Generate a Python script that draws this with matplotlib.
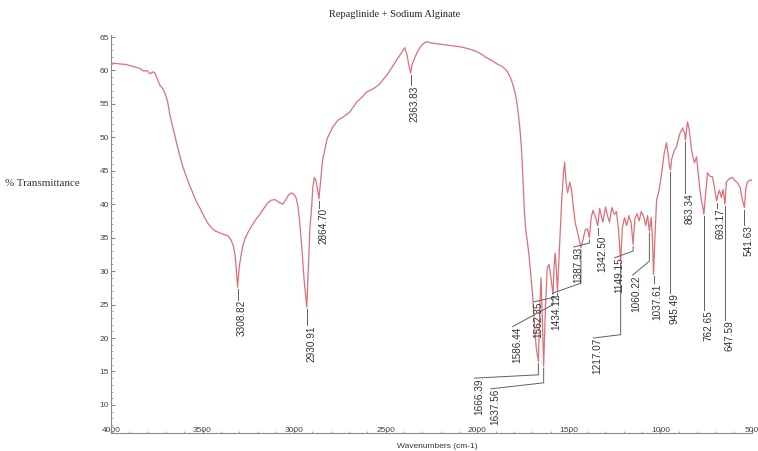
import numpy as np
import matplotlib.pyplot as plt
from matplotlib.ticker import MultipleLocator

# FTIR spectrum: wavenumber (cm-1) and % transmittance
wavenumber = [4000, 3960, 3920, 3880, 3842, 3820, 3805, 3787, 3770, 3760, 3745, 3733, 3718, 3705,
              3690, 3678, 3665, 3651, 3637, 3624, 3610, 3596, 3583, 3569, 3555, 3542, 3528, 3514,
              3500, 3487, 3470, 3449, 3430, 3405, 3385, 3362, 3345, 3332, 3322, 3315, 3308.82, 3300,
              3291, 3280, 3269, 3250, 3231, 3210, 3187, 3165, 3144, 3125, 3105, 3085, 3062, 3045,
              3030, 3015, 3002, 2990, 2980, 2970, 2958, 2945, 2930.91, 2922, 2914, 2906, 2898, 2890,
              2882, 2874, 2864.70, 2845, 2820, 2790, 2760, 2734, 2696, 2658, 2630, 2603, 2571, 2540,
              2515, 2494, 2465, 2440, 2415, 2396, 2385, 2375, 2363.83, 2357, 2346, 2330, 2314, 2295,
              2276, 2250, 2221, 2195, 2167, 2140, 2112, 2085, 2058, 2030, 2003, 1975, 1949, 1920,
              1894, 1865, 1840, 1820, 1807, 1792, 1780, 1768, 1758, 1750, 1743, 1735, 1727, 1718,
              1708, 1698, 1688, 1678, 1666.39, 1658, 1652, 1646, 1637.56, 1628, 1618, 1608, 1598,
              1586.44, 1580, 1575, 1569, 1562.35, 1552, 1540, 1530, 1523, 1516, 1507, 1495, 1485,
              1475, 1465, 1450, 1434.12, 1422, 1410, 1398, 1387.93, 1378, 1368, 1358, 1342.50, 1332,
              1322, 1314, 1300, 1288, 1278, 1265, 1252, 1240, 1230, 1217.07, 1208, 1196, 1184, 1172,
              1160, 1149.15, 1140, 1128, 1116, 1105, 1093, 1080, 1070, 1060.22, 1050, 1044, 1037.61,
              1030, 1021, 1008, 994, 980, 967, 958, 952, 945.49, 938, 925, 912, 895, 879, 868,
              863.34, 858, 852, 845, 838, 830, 822, 814, 803, 795, 786, 776, 768, 762.65, 755, 743,
              730, 716, 705, 693.17, 685, 678, 667, 658, 647.59, 640, 625, 607, 593, 579, 565, 552,
              541.63, 533, 525, 512, 500]
transmittance = [61.1, 61.0, 60.9, 60.6, 60.3, 59.9, 60.0, 59.5, 59.8, 59.6, 58.6, 57.8, 57.3, 56.6,
                 55.2, 53.3, 51.8, 50.2, 48.6, 47.2, 45.8, 44.7, 43.7, 42.7, 41.8, 40.9, 40.1, 39.4,
                 38.6, 37.9, 37.1, 36.4, 36.0, 35.7, 35.5, 35.3, 34.7, 33.8, 32.3, 30.0, 27.6, 30.5,
                 32.2, 33.8, 34.8, 35.9, 36.8, 37.7, 38.5, 39.4, 40.2, 40.6, 40.7, 40.3, 40.0, 40.7,
                 41.4, 41.7, 41.5, 41.0, 39.8, 37.5, 33.5, 28.5, 24.6, 31.0, 36.5, 38.9, 42.5, 44.0,
                 43.6, 42.5, 40.8, 46.5, 49.8, 51.5, 52.6, 53.0, 53.8, 55.3, 56.0, 56.8, 57.2, 57.8,
                 58.6, 59.3, 60.5, 61.6, 62.6, 63.4, 62.5, 61.0, 59.6, 60.8, 61.6, 62.6, 63.4, 64.0,
                 64.3, 64.1, 64.0, 63.9, 63.8, 63.7, 63.6, 63.5, 63.3, 63.1, 62.8, 62.4, 61.9, 61.5,
                 61.0, 60.6, 60.0, 59.0, 58.0, 56.5, 54.5, 51.5, 48.1, 43.5, 39.0, 36.0, 34.5, 32.5,
                 29.5, 26.5, 22.0, 18.5, 16.5, 25.0, 29.0, 24.0, 15.8, 24.5, 30.5, 31.0, 29.0,
                 26.5, 31.0, 32.7, 30.5, 27.0, 33.0, 40.0, 44.5, 46.3, 43.5, 41.7, 43.3, 42.0,
                 39.5, 37.2, 35.5, 33.5, 34.8, 36.2, 36.3, 35.0, 38.0, 39.1, 38.4, 36.8, 39.4,
                 38.2, 37.3, 39.6, 38.2, 37.3, 39.5, 38.5, 38.9, 36.5, 31.5, 36.5, 38.0, 36.8, 38.3,
                 37.2, 34.0, 37.8, 38.6, 37.5, 38.9, 38.3, 36.8, 38.3, 36.0, 38.0, 35.0, 29.5,
                 35.0, 40.6, 42.0, 44.5, 47.5, 49.2, 47.5, 46.0, 45.1, 46.8, 48.0, 48.6, 50.5, 51.4, 50.6,
                 49.6, 51.0, 52.3, 51.5, 50.0, 48.1, 47.0, 46.2, 47.1, 45.0, 42.5, 40.6, 39.5, 38.5, 41.0, 44.7,
                 44.2, 44.1, 42.5, 40.5, 41.5, 42.1, 41.0, 42.2, 40.0, 43.3, 43.8, 44.0, 43.5, 43.2, 42.5, 40.6,
                 39.5, 42.5, 43.3, 43.6, 43.6]

peaks = [3308.82, 2930.91, 2864.70, 2363.83, 1666.39, 1637.56, 1586.44, 1562.35, 1434.12,
         1387.93, 1342.50, 1217.07, 1149.15, 1060.22, 1037.61, 945.49, 863.34, 762.65,
         693.17, 647.59, 541.63]

# where each peak label goes: (text position in cm-1, top of text in %T, leader bend in %T)
label_layout = [(3308.82, 25.7, None), (2930.91, 21.9, None), (2864.70, 39.5, None),
                (2363.83, 57.8, None), (2014, 14.0, 14.5), (1927, 12.4, 13.3),
                (1807, 21.7, 25.0), (1692, 25.4, 26.2), (1589, 26.7, 28.2),
                (1474, 33.6, 34.2), (1342.50, 35.4, None), (1365, 20.0, 20.5),
                (1250, 32.0, 33.0), (1152, 29.4, 31.5), (1037.61, 28.2, None),
                (945.49, 26.7, None), (863.34, 41.7, None), (762.65, 24.2, None),
                (693.17, 39.4, None), (647.59, 22.7, None), (541.63, 36.9, None)]

wn = np.array(wavenumber)
tr = np.array(transmittance)

fig = plt.figure(figsize=(7.58, 4.51), dpi=100)
ax = fig.add_axes([111 / 758, 18 / 451, 641 / 758, 398 / 451])

ax.plot(wn, tr, color='#dd6f78', lw=0.9)

peak_t = np.interp(peaks, wn[::-1], tr[::-1])
for p, pt, (tx, top, bend) in zip(peaks, peak_t, label_layout):
    if bend is None:
        xs, ys = [p, p], [pt - 0.3, top]
    else:
        xs, ys = [p, p, tx], [pt - 0.3, bend, top]
    ax.plot(xs, ys, color='#606060', lw=0.7)
    ax.annotate(f"{p:.2f}", xy=(tx, top), xytext=(3, 0), textcoords='offset points',
                rotation=90, ha='center', va='top', fontsize=7.2,
                family='Liberation Sans', color='#333333')

ax.set_xlim(4000, 500)
ax.set_ylim(5.8, 65.3)
ax.xaxis.set_major_locator(MultipleLocator(500))
ax.xaxis.set_minor_locator(MultipleLocator(100))
ax.yaxis.set_major_locator(MultipleLocator(5))
ax.yaxis.set_minor_locator(MultipleLocator(1))
ax.set_yticks(np.arange(10, 66, 5))

for side in ['top', 'right']:
    ax.spines[side].set_visible(False)
for side in ['left', 'bottom']:
    ax.spines[side].set_color('#8a8a8a')
    ax.spines[side].set_linewidth(0.8)

ax.tick_params(axis='x', which='major', direction='in', length=3, pad=-4,
               labelsize=6, colors='#8a8a8a', labelcolor='#444444')
ax.tick_params(axis='y', which='major', direction='in', length=3, pad=1.5,
               labelsize=6, colors='#8a8a8a', labelcolor='#444444')
ax.tick_params(which='minor', direction='in', length=1.5, colors='#9a9a9a')
for lbl in ax.get_xticklabels() + ax.get_yticklabels():
    lbl.set_family('Liberation Sans')

fig.text(0.521, 0.967, 'Repaglinide + Sodium Alginate', ha='center', va='center',
         fontsize=7.5, family='Liberation Serif', color='#222222')
fig.text(0.007, 0.594, '% Transmittance', ha='left', va='center',
         fontsize=8, family='Liberation Serif', color='#333333')
fig.text(0.577, 0.011, 'Wavenumbers (cm-1)', ha='center', va='center',
         fontsize=6, family='Liberation Sans', color='#333333')

fig.savefig('out.png', dpi=100)
